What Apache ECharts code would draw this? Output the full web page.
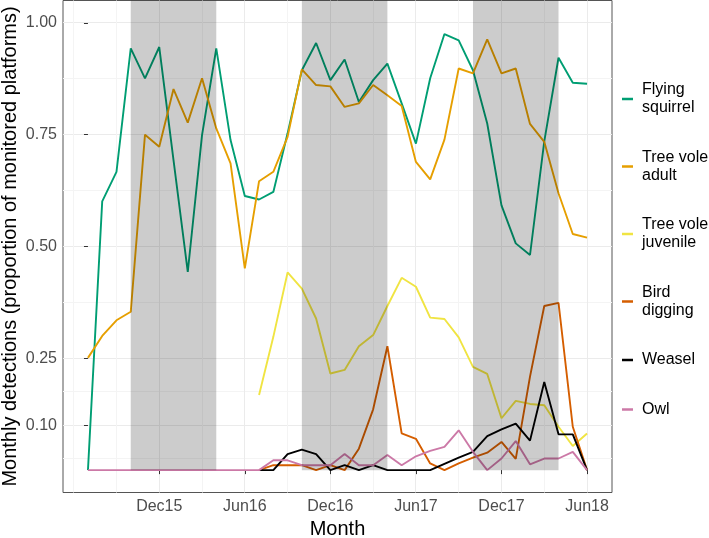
<!DOCTYPE html>
<html><head><meta charset="utf-8">
<script src="https://cdn.jsdelivr.net/npm/echarts@6/dist/echarts.min.js"></script>
<style>html,body{margin:0;padding:0;background:#fff}#c{width:709px;height:538px}</style>
</head><body><div id="c"></div>
<script>
// Months (index 0 = Jul 2015 ... 35 = Jun 2018)
const months = ["2015-07","2015-08","2015-09","2015-10","2015-11","2015-12","2016-01","2016-02","2016-03","2016-04","2016-05","2016-06",
"2016-07","2016-08","2016-09","2016-10","2016-11","2016-12","2017-01","2017-02","2017-03","2017-04","2017-05","2017-06",
"2017-07","2017-08","2017-09","2017-10","2017-11","2017-12","2018-01","2018-02","2018-03","2018-04","2018-05","2018-06"];
const xTickIndex = [5, 11, 17, 23, 29, 35];
const xTickLabels = ["Dec15","Jun16","Dec16","Jun17","Dec17","Jun18"];
const xMinorIndex = [-1, 2, 8, 14, 20, 26, 32];
const yTicks = [0.10, 0.25, 0.50, 0.75, 1.00];
const yMinor = [0.025, 0.175, 0.375, 0.625, 0.875];
// winter shading periods (month index start, end)
const shadeStart = [3, 15, 27];
const shadeEnd = [9, 21, 33];

const seriesNames = ["Flying squirrel","Tree vole adult","Tree vole juvenile","Bird digging","Weasel","Owl"];
const legendLabels = ["Flying\nsquirrel","Tree vole\nadult","Tree vole\njuvenile","Bird\ndigging","Weasel","Owl"];
const seriesColors = ["#009E73","#E69F00","#F0E442","#D55E00","#000000","#CC79A7"];

const flyingSquirrel = [0, 0.601, 0.667, 0.943, 0.876, 0.946, 0.693, 0.443, 0.749, 0.943, 0.738, 0.613,
  0.605, 0.622, 0.753, 0.894, 0.955, 0.872, 0.918, 0.823, 0.872, 0.909, 0.820, 0.730,
  0.876, 0.975, 0.961, 0.894, 0.775, 0.592, 0.507, 0.481, 0.735, 0.922, 0.866, 0.864];
const treeVoleAdult = [0.251, 0.300, 0.335, 0.354, 0.750, 0.723, 0.852, 0.777, 0.876, 0.764, 0.686, 0.451,
  0.646, 0.667, 0.745, 0.896, 0.861, 0.858, 0.812, 0.820, 0.861, 0.838, 0.814, 0.689,
  0.650, 0.739, 0.898, 0.887, 0.963, 0.887, 0.898, 0.774, 0.734, 0.619, 0.528, 0.520];
const treeVoleJuvenile = [null, null, null, null, null, null, null, null, null, null, null, null,
  0.168, 0.298, 0.442, 0.406, 0.339, 0.216, 0.224, 0.277, 0.302, 0.367, 0.430, 0.410,
  0.341, 0.338, 0.297, 0.231, 0.215, 0.116, 0.155, 0.148, 0.145, 0.097, 0.054, 0.082];
const birdDigging = [null, null, null, null, null, null, null, null, null, null, null, null,
  0, 0.011, 0.011, 0.011, 0, 0.011, 0, 0.048, 0.136, 0.277, 0.082, 0.070,
  0.015, 0, 0.015, 0.028, 0.039, 0.063, 0.025, 0.209, 0.367, 0.374, 0.097, 0];
const weasel = [null, null, null, null, null, null, null, null, null, null, null, null,
  0, 0, 0.036, 0.046, 0.036, 0, 0.011, 0, 0.011, 0, 0, 0,
  0, 0.014, 0.028, 0.041, 0.076, 0.091, 0.104, 0.066, 0.197, 0.080, 0.080, 0];
const owl = [0, 0, 0, 0, 0, 0, 0, 0, 0, 0, 0, 0,
  0, 0.022, 0.022, 0.011, 0.011, 0.011, 0.036, 0.011, 0.011, 0.034, 0.011, 0.031,
  0.043, 0.052, 0.089, 0.041, 0, 0.026, 0.065, 0.013, 0.026, 0.026, 0.041, 0];

const allSeries = [flyingSquirrel, treeVoleAdult, treeVoleJuvenile, birdDigging, weasel, owl];

const X_MIN = -1.75, X_MAX = 36.75, Y_MIN = -0.05, Y_MAX = 1.05;

function crisp(v) { return Math.round(v - 0.5) + 0.5; }

const hGridData = yTicks.map(v => [v, 1]).concat(yMinor.map(v => [v, 0]));
const vGridData = xTickIndex.map(v => [v, 1]).concat(xMinorIndex.map(v => [v, 0]));
const shadeData = shadeStart.map((s, i) => [s, shadeEnd[i]]);

const lineSeries = allSeries.map((vals, k) => ({
  name: seriesNames[k],
  type: 'line',
  data: vals.map((v, i) => [i, v]),
  showSymbol: false,
  symbol: 'none',
  connectNulls: false,
  color: seriesColors[k],
  lineStyle: { color: seriesColors[k], width: 1.9 },
  itemStyle: { color: seriesColors[k] },
  z: 3,
  animation: false
}));

const option = {
  animation: false,
  backgroundColor: '#ffffff',
  grid: { left: 63, right: 97, top: 0.5, bottom: 45.5, show: true, borderColor: '#555555', borderWidth: 1,
    backgroundColor: 'transparent', containLabel: false, outerBoundsMode: 'none' },
  xAxis: {
    type: 'value', min: X_MIN, max: X_MAX,
    axisLine: { show: false },
    axisTick: { show: true, customValues: xTickIndex, length: 4, lineStyle: { color: '#333333', width: 1 } },
    axisLabel: { customValues: xTickIndex, formatter: v => xTickLabels[xTickIndex.indexOf(Math.round(v))] || '',
      fontSize: 16, color: '#4D4D4D', margin: 6, fontFamily: 'Liberation Sans, Arial, sans-serif' },
    splitLine: { show: false },
    name: 'Month', nameLocation: 'middle', nameGap: 27, nameMoveOverlap: false,
    nameTextStyle: { fontSize: 20, color: '#000000', fontFamily: 'Liberation Sans, Arial, sans-serif' }
  },
  yAxis: {
    type: 'value', min: Y_MIN, max: Y_MAX,
    axisLine: { show: false },
    axisTick: { show: true, customValues: yTicks, length: 4, lineStyle: { color: '#333333', width: 1 } },
    axisLabel: { customValues: yTicks, formatter: v => v.toFixed(2),
      fontSize: 16, color: '#4D4D4D', margin: 6, fontFamily: 'Liberation Sans, Arial, sans-serif' },
    splitLine: { show: false },
    name: 'Monthly detections (proportion of monitored platforms)', nameLocation: 'middle', nameGap: 43, nameMoveOverlap: false,
    nameTextStyle: { fontSize: 20, color: '#000000', fontFamily: 'Liberation Sans, Arial, sans-serif' }
  },
  legend: {
    data: seriesNames,
    orient: 'vertical',
    left: 622, top: 81,
    padding: 0,
    itemGap: 31.5,
    itemWidth: 11, itemHeight: 2.5,
    icon: 'rect',
    selectedMode: false,
    formatter: name => legendLabels[seriesNames.indexOf(name)],
    textStyle: { fontSize: 16, lineHeight: 18, color: '#000000', padding: [0, 0, 0, 4], fontFamily: 'Liberation Sans, Arial, sans-serif' }
  },
  series: [
    {
      type: 'custom', name: 'hgrid', z: 0, silent: true, data: hGridData,
      renderItem: (params, api) => {
        const cs = params.coordSys;
        const y = crisp(api.coord([0, api.value(0)])[1]);
        return { type: 'line', shape: { x1: cs.x, y1: y, x2: cs.x + cs.width, y2: y },
          style: { stroke: api.value(1) ? '#EBEBEB' : '#F4F4F4', lineWidth: 1 } };
      }
    },
    {
      type: 'custom', name: 'vgrid', z: 0, silent: true, data: vGridData,
      renderItem: (params, api) => {
        const cs = params.coordSys;
        const x = crisp(api.coord([api.value(0), 0])[0]);
        return { type: 'line', shape: { x1: x, y1: cs.y, x2: x, y2: cs.y + cs.height },
          style: { stroke: api.value(1) ? '#EBEBEB' : '#F4F4F4', lineWidth: 1 } };
      }
    }
  ].concat(lineSeries).concat([
    {
      type: 'custom', name: 'shade', z: 10, silent: true, data: shadeData,
      renderItem: (params, api) => {
        const cs = params.coordSys;
        const p1 = api.coord([api.value(0), 0]);
        const p2 = api.coord([api.value(1), 0]);
        return { type: 'rect', shape: { x: p1[0], y: cs.y, width: p2[0] - p1[0], height: p1[1] - cs.y },
          style: { fill: 'rgba(0,0,0,0.2)' } };
      }
    }
  ])
};

const chart = echarts.init(document.getElementById('c'), null, { renderer: 'canvas' });
chart.setOption(option);
</script>
</body></html>
